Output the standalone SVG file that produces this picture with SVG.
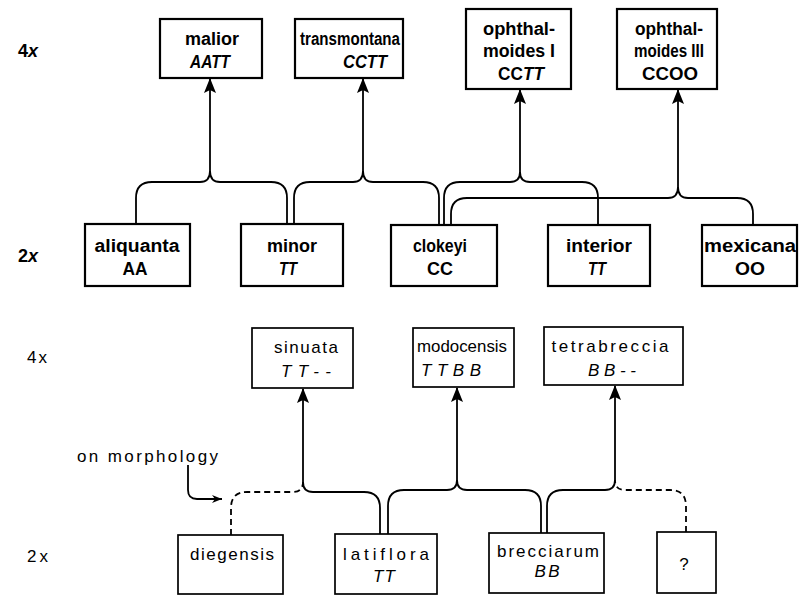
<svg xmlns="http://www.w3.org/2000/svg" width="799" height="595" viewBox="0 0 799 595">
<style>
text{font-family:"Liberation Sans",Arial,sans-serif;fill:#000;text-anchor:middle}
.t{font-weight:bold;font-size:18px}
.b{font-size:17px}
.i{font-style:italic}
.bx1{fill:#fff;stroke:#000;stroke-width:2.2}
.bx2{fill:#fff;stroke:#000;stroke-width:1.7}
.c{fill:none;stroke:#000;stroke-width:1.8}
.d{stroke-dasharray:6 4}
.lbl{text-anchor:start}
</style>
<defs>
<marker id="ah" viewBox="0 0 15 12" refX="14" refY="6" markerWidth="15" markerHeight="12" markerUnits="userSpaceOnUse" orient="auto">
<path d="M0,0 L15,6 L0,12 L3,6 z" fill="#000"/>
</marker>
<marker id="ahs" viewBox="0 0 10 8" refX="10" refY="4" markerWidth="10" markerHeight="8" markerUnits="userSpaceOnUse" orient="auto">
<path d="M0,0 L10,4 L0,8 L3,4 z" fill="#000"/>
</marker>
</defs>
<rect width="799" height="595" fill="#fff"/>

<g id="levels">
<text class="t lbl" x="18" y="57">4<tspan class="i">x</tspan></text>
<text class="t lbl" x="18" y="262">2<tspan class="i">x</tspan></text>
<text class="b lbl" x="27" y="363" textLength="20" lengthAdjust="spacing">4x</text>
<text class="b lbl" x="27" y="562" textLength="21" lengthAdjust="spacing">2x</text>
</g>

<g id="connectors">
<path class="c" d="M136,224 V198 Q136,182 152,182 H200 Q210,182 210,171"/>
<path class="c" d="M287,224 V198 Q287,182 271,182 H220 Q210,182 210,171"/>
<path class="c" d="M210,171 V79" marker-end="url(#ah)"/>
<path class="c" d="M294,224 V198 Q294,182 310,182 H353 Q363,182 363,171"/>
<path class="c" d="M439,225 V198 Q439,182 423,182 H373 Q363,182 363,171"/>
<path class="c" d="M363,171 V79" marker-end="url(#ah)"/>
<path class="c" d="M444,225 V198 Q444,182 460,182 H510 Q520,182 520,172"/>
<path class="c" d="M598,225 V198 Q598,182 582,182 H530 Q520,182 520,172"/>
<path class="c" d="M520,172 V90" marker-end="url(#ah)"/>
<path class="c" d="M451,225 V214 Q451,198 467,198 H668 Q678,198 678,187"/>
<path class="c" d="M753,225 V214 Q753,198 737,198 H688 Q678,198 678,187"/>
<path class="c" d="M678,187 V90" marker-end="url(#ah)"/>
<path class="c d" d="M231,535 V508 Q231,492 247,492 H293 Q303,492 303,482"/>
<path class="c" d="M380,534 V508 Q380,492 364,492 H313 Q303,492 303,482"/>
<path class="c" d="M303,482 V389" marker-end="url(#ah)"/>
<path class="c" d="M388,534 V506 Q388,490 404,490 H447 Q457,490 457,480"/>
<path class="c" d="M541,533 V506 Q541,490 525,490 H467 Q457,490 457,480"/>
<path class="c" d="M457,480 V388" marker-end="url(#ah)"/>
<path class="c" d="M547,533 V506 Q547,490 563,490 H605 Q615,490 615,480"/>
<path class="c d" d="M686,532 V506 Q686,490 670,490 H625 Q615,490 615,480"/>
<path class="c" d="M615,480 V386" marker-end="url(#ah)"/>
<path class="c" d="M188,465 V490 Q188,499 197,499 H222" marker-end="url(#ahs)"/>
</g>

<g id="malior"><rect class="bx1" x="160" y="19" width="102" height="59"/>
<text class="t" x="212" y="45" textLength="54" lengthAdjust="spacingAndGlyphs">malior</text>
<text class="t i" x="210" y="68" textLength="40" lengthAdjust="spacingAndGlyphs">AATT</text></g>

<g id="transmontana"><rect class="bx1" x="295" y="19" width="108" height="59"/>
<text class="t" x="350" y="45" textLength="100" lengthAdjust="spacingAndGlyphs">transmontana</text>
<text class="t i" x="365" y="68" textLength="44" lengthAdjust="spacingAndGlyphs">CCTT</text></g>

<g id="ophthalmoides1"><rect class="bx1" x="466" y="9" width="105" height="80"/>
<text class="t" x="519" y="35" textLength="72" lengthAdjust="spacingAndGlyphs">ophthal-</text>
<text class="t" x="519" y="57" textLength="72" lengthAdjust="spacingAndGlyphs">moides I</text>
<text class="t" x="521" y="80" textLength="46" lengthAdjust="spacingAndGlyphs">CC<tspan class="i">TT</tspan></text></g>

<g id="ophthalmoides3"><rect class="bx1" x="617" y="9" width="100" height="80"/>
<text class="t" x="669" y="35" textLength="68" lengthAdjust="spacingAndGlyphs">ophthal-</text>
<text class="t" x="669" y="57" textLength="70" lengthAdjust="spacingAndGlyphs">moides III</text>
<text class="t" x="670" y="80" textLength="56" lengthAdjust="spacingAndGlyphs">CCOO</text></g>

<g id="aliquanta"><rect class="bx1" x="85" y="224" width="105" height="62"/>
<text class="t" x="137" y="252" textLength="85" lengthAdjust="spacingAndGlyphs">aliquanta</text>
<text class="t" x="135" y="275" textLength="25" lengthAdjust="spacingAndGlyphs">AA</text></g>

<g id="minor"><rect class="bx1" x="241" y="224" width="102" height="62"/>
<text class="t" x="292" y="252" textLength="50" lengthAdjust="spacingAndGlyphs">minor</text>
<text class="t i" x="288" y="275" textLength="18" lengthAdjust="spacingAndGlyphs">TT</text></g>

<g id="clokeyi"><rect class="bx1" x="391" y="225" width="106" height="61"/>
<text class="t" x="440" y="252" textLength="54" lengthAdjust="spacingAndGlyphs">clokeyi</text>
<text class="t" x="440" y="275" textLength="26" lengthAdjust="spacingAndGlyphs">CC</text></g>

<g id="interior"><rect class="bx1" x="548" y="225" width="102" height="61"/>
<text class="t" x="599" y="252" textLength="66" lengthAdjust="spacingAndGlyphs">interior</text>
<text class="t i" x="597" y="275" textLength="18" lengthAdjust="spacingAndGlyphs">TT</text></g>

<g id="mexicana"><rect class="bx1" x="702" y="225" width="95" height="61"/>
<text class="t" x="750" y="252" textLength="92" lengthAdjust="spacingAndGlyphs">mexicana</text>
<text class="t" x="750" y="275" textLength="30" lengthAdjust="spacingAndGlyphs">OO</text></g>

<g id="sinuata"><rect class="bx2" x="252" y="328" width="101" height="60"/>
<text class="b" x="306" y="353" textLength="64" lengthAdjust="spacing">sinuata</text>
<text class="b i" x="306" y="377" textLength="50" lengthAdjust="spacing">TT--</text></g>

<g id="modocensis"><rect class="bx2" x="413" y="328" width="101" height="59"/>
<text class="b" x="462" y="352" textLength="90" lengthAdjust="spacingAndGlyphs">modocensis</text>
<text class="b i" x="451" y="376" textLength="60" lengthAdjust="spacing">TTBB</text></g>

<g id="tetrabreccia"><rect class="bx2" x="544" y="327" width="139" height="58"/>
<text class="b" x="610" y="352" textLength="117" lengthAdjust="spacing">tetrabreccia</text>
<text class="b i" x="612" y="376" textLength="48" lengthAdjust="spacing">BB--</text></g>

<g id="diegensis"><rect class="bx2" x="178" y="535" width="105" height="59"/>
<text class="b" x="232" y="560" textLength="84" lengthAdjust="spacing">diegensis</text></g>

<g id="latiflora"><rect class="bx2" x="335" y="534" width="102" height="60"/>
<text class="b" x="386" y="560" textLength="86" lengthAdjust="spacing">latiflora</text>
<text class="b i" x="384" y="582" textLength="22" lengthAdjust="spacing">TT</text></g>

<g id="brecciarum"><rect class="bx2" x="489" y="533" width="115" height="60"/>
<text class="b" x="548" y="557" textLength="102" lengthAdjust="spacing">brecciarum</text>
<text class="b i" x="547" y="577" textLength="25" lengthAdjust="spacing">BB</text></g>

<g id="unknown"><rect class="bx2" x="657" y="532" width="59" height="61"/>
<text class="b" x="684" y="570">?</text></g>

<g id="note">
<text class="b lbl" x="77" y="462" textLength="141" lengthAdjust="spacing">on morphology</text>
</g>
</svg>
